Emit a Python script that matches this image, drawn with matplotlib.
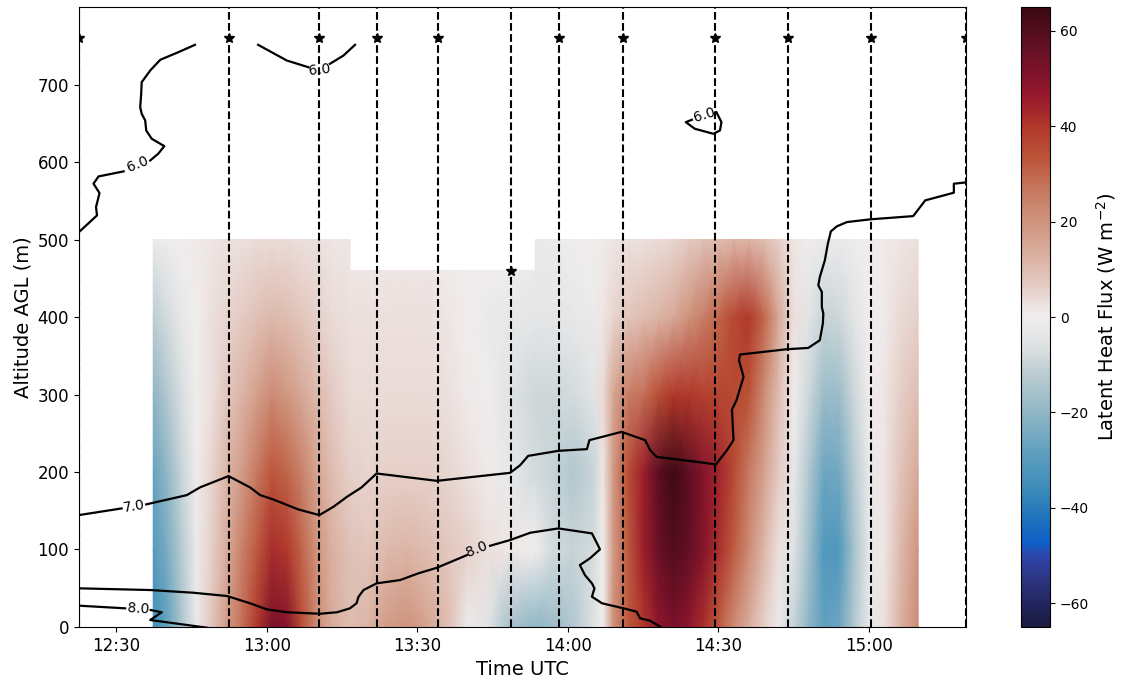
import numpy as np
import pandas as pd
import matplotlib
matplotlib.use('Agg')
import matplotlib.pyplot as plt
import matplotlib.dates as mdates
from matplotlib.colors import LinearSegmentedColormap

# Tiempos en minutos despues de las 12:00 UTC
base = pd.Timestamp('2020-01-01 12:00')


def to_num(minutes):
    return mdates.date2num(base) + np.asarray(minutes, dtype=float) / 1440.0


# Perfiles del avion (lineas verticales) y altura maxima de cada perfil
profile_t = [22.6, 52.4, 70.5, 81.9, 94.1, 108.6, 118.3, 130.9, 149.3, 163.8, 180.4, 199.3]
profile_top = [760, 760, 760, 760, 760, 460, 760, 760, 760, 760, 760, 760]

# Flujo de calor latente (W m-2) por nivel de altura
flux_alt = [0, 100, 200, 300, 400, 500]
flux_t = [37.4, 40, 43, 46, 49, 52, 55, 58, 61, 64, 67, 70, 73, 76.6, 80, 84,
          88, 92, 96, 100, 104, 108, 113.5, 117, 121, 125, 127, 129, 132, 135,
          138, 141, 144, 147, 150, 153, 156, 159, 162, 165, 168, 171, 174, 177,
          180, 183, 186, 189.8]
flux_0m = [-35, -28, -15, -2, 8, 18, 28, 40, 52, 50, 35, 22, 14, 10, 12, 18,
           20, 16, 10, -2, -5, -15, -20, -18, -14, -6, 0, 20, 32, 40,
           48, 52, 48, 42, 32, 22, 14, 6, -2, -10, -20, -28, -26, -14,
           -3, 3, 12, 22]
flux_100m = [-30, -24, -13, -2, 6, 14, 24, 32, 42, 40, 30, 20, 13, 9, 8, 11,
             12, 10, 8, 6, 3, 2, 0, -8, -10, -8, 0, 18, 32, 45,
             55, 60, 57, 50, 42, 32, 22, 12, 3, -6, -17, -31, -31, -16,
             -3, 2, 10, 20]
flux_200m = [-27, -20, -10, -1, 5, 12, 18, 26, 33, 30, 24, 16, 10, 6, 5, 6,
             6, 6, 5, 3, 1, -3, -8, -10, -14, -10, 2, 18, 35, 45,
             58, 64, 58, 50, 44, 36, 26, 17, 7, -3, -14, -26, -25, -13,
             -2, 2, 8, 15]
flux_300m = [-20, -14, -7, 0, 3, 8, 12, 17, 22, 19, 15, 11, 7, 4, 4, 4,
             4, 4, 3, 1, -1, -5, -9, -9, -8, -5, 4, 15, 25, 28,
             35, 40, 40, 38, 37, 36, 34, 22, 10, 0, -9, -18, -18, -9,
             -1, 2, 6, 10]
flux_400m = [-12, -8, -3, 0, 3, 5, 7, 9, 11, 10, 8, 6, 4, 3, 3, 3,
             3, 3, 2, 0, -2, -3, -4, -4, -3, -2, 2, 5, 8, 10,
             12, 15, 20, 25, 30, 36, 40, 30, 15, 3, -5, -10, -9, -5,
             0, 1, 4, 6]
flux_500m = [-2, -1, 0, 1, 2, 3, 3, 4, 4, 4, 3, 3, 2, 2, 2, 2,
             2, 2, 1, 0, -1, -1, -2, -2, -1, 0, 1, 2, 3, 3,
             4, 5, 7, 9, 10, 12, 12, 10, 6, 2, -1, -2, -2, -1,
             0, 1, 2, 3]
# Tramo con techo mas bajo (perfil de 13:48)
notch_start, notch_end, notch_top = 76.6, 113.5, 460

# Isolineas (razon de mezcla, g/kg) como segmentos entre etiquetas
c6_segments = [
    ([22.6, 26.2, 26.0, 26.7, 25.5, 26.5, 31.5],
     [509.6, 531.1, 541.8, 559.9, 572.0, 581.4, 587.9]),
    ([36.8, 38.4, 39.6, 37.1, 36.0, 35.8, 35.1, 34.8, 35.0, 35.1, 36.8, 38.8, 42.4, 45.7],
     [602.0, 610.7, 620.5, 630.0, 640.7, 653.6, 662.3, 670.8, 688.0, 703.0, 718.1, 731.9, 741.7, 751.2]),
    ([58.3, 64.0, 68.3], [751.2, 731.0, 722.3]),
    ([72.6, 75.3, 77.6], [726.7, 737.4, 751.2]),
    ([149.6, 150.6, 150.3, 149.0, 145.3, 143.5, 144.7],
     [664.3, 651.4, 640.7, 636.4, 642.9, 651.4, 654.5]),
]
c7_segments = [
    ([22.6, 31.1], [144.4, 153.0]),
    ([36.0, 44.1, 46.7, 52.4, 56.7, 58.7, 61.3, 66.3, 70.5, 73.3, 76.0, 78.9, 81.9,
      93.9, 108.5, 110.5, 112.1, 118.1, 123.8, 124.3, 130.7, 135.4, 136.4, 137.7,
      145.7, 149.5, 151.7, 153.0, 152.7, 153.6, 155.0, 154.1, 154.3, 163.6, 167.9,
      170.2, 170.8, 170.9, 170.6, 170.6, 169.9, 170.2, 171.2, 171.8, 172.4, 173.6,
      175.6, 180.2, 188.8, 191.2, 196.9, 196.9, 198.8, 199.3],
     [158.2, 170.2, 180.1, 194.7, 180.1, 170.2, 164.6, 151.7, 144.4, 155.1, 168.0,
      180.1, 198.1, 188.6, 198.9, 208.8, 220.8, 227.3, 229.5, 241.1, 251.8, 241.1,
      228.2, 219.5, 213.1, 209.7, 228.2, 241.1, 280.7, 292.6, 322.7, 344.2, 351.6,
      358.4, 360.1, 370.0, 391.5, 404.4, 412.9, 432.3, 440.9, 451.6, 473.1, 494.6,
      510.5, 517.0, 522.5, 526.0, 530.2, 550.5, 560.4, 572.0, 573.3, 573.7]),
]
c8_segments = [
    ([22.6, 36.8, 45.4, 52.1, 56.7, 60.0, 64.0, 70.6, 74.0, 76.6, 77.9, 78.3, 79.3,
      81.9, 86.6, 90.2, 93.9, 99.9],
     [49.9, 47.7, 44.2, 40.0, 30.6, 22.8, 19.0, 17.1, 19.0, 24.1, 30.6, 39.1, 47.7,
      56.3, 60.6, 69.2, 76.4, 92.8]),
    ([104.5, 108.5, 112.5, 118.1, 124.8, 126.4, 124.4, 122.4, 123.4, 124.8, 125.3,
      124.8, 126.8, 131.1, 133.7, 134.4, 136.4, 138.4],
     [104.8, 112.2, 121.6, 127.2, 120.8, 100.2, 88.6, 79.9, 67.0, 56.3, 49.9, 39.1,
      30.6, 24.1, 19.7, 11.2, 8.1, 0.4]),
    ([22.6, 31.8], [27.5, 24.1]),
    ([36.9, 39.1, 36.8, 48.1], [21.9, 19.0, 9.0, -0.9]),
]
# Etiquetas de isolineas: texto, tiempo, altura, rotacion
clabels = [('6.0', 34.4, 597, 22), ('6.0', 70.5, 719, 6), ('6.0', 147.1, 661, 17),
           ('7.0', 33.6, 156, 9), ('8.0', 101.9, 100.6, 22), ('8.0', 34.4, 24.1, -4)]

# Paleta tipo "balance"
cmap_vals = [-65, -62.4, -55.4, -50.2, -47.6, -42.3, -36.2, -29.3, -20.6, -11.9, -5.8, 0,
             2.1, 7.3, 14.3, 21.3, 28.2, 33.5, 40.4, 46.5, 52.6, 58.7, 65]
cmap_cols = ['#191b40', '#1e2050', '#2c3480', '#2e46aa', '#0e5fc6', '#1f72bb', '#3d8dbb',
             '#5a9dbe', '#8db5c4', '#bccdd2', '#dfe2e3', '#f1eeee', '#ede4e2', '#e3c8c0',
             '#d8ab99', '#cd8f78', '#c47158', '#bb5438', '#b0362a', '#96182d', '#78122a',
             '#5a0e22', '#3c0914']
cmap = LinearSegmentedColormap.from_list(
    'balance', list(zip([(v + 65) / 130 for v in cmap_vals], cmap_cols)))

fig = plt.figure(figsize=(11.23, 6.81), dpi=100)
ax = fig.add_axes([0.0703, 0.0793, 0.7898, 0.9104])
cax = fig.add_axes([0.9092, 0.0793, 0.0258, 0.9104])

flux = np.array([flux_0m, flux_100m, flux_200m, flux_300m, flux_400m, flux_500m])
tt = np.array(flux_t)
i0 = int(np.argmin(abs(tt - notch_start)))
i1 = int(np.argmin(abs(tt - notch_end)))
for lo, hi, top in [(0, i0, flux_alt[-1]), (i0, i1, notch_top), (i1, len(tt) - 1, flux_alt[-1])]:
    alts = np.array(flux_alt, dtype=float)
    alts[-1] = top
    X, Y = np.meshgrid(to_num(tt[lo:hi + 1]), alts)
    mesh = ax.pcolormesh(X, Y, flux[:, lo:hi + 1], cmap=cmap, vmin=-65, vmax=65,
                         shading='gouraud')

for t, top in zip(profile_t, profile_top):
    ax.axvline(to_num(t), color='k', linestyle='--', linewidth=1.5)
    ax.plot(to_num(t), top, marker='*', color='k', markersize=7)

for seg_t, seg_z in c6_segments + c7_segments + c8_segments:
    ax.plot(to_num(seg_t), seg_z, color='k', linewidth=1.6)
for txt, t, z, rot in clabels:
    ax.text(to_num(t), z, txt, fontsize=10, rotation=rot, ha='center', va='center')

ax.set_xlim(to_num(profile_t[0]), to_num(profile_t[-1]))
ax.set_ylim(0, 800)
ax.set_yticks(range(0, 800, 100))
ax.xaxis.set_major_locator(mdates.MinuteLocator(byminute=[0, 30]))
ax.xaxis.set_major_formatter(mdates.DateFormatter('%H:%M'))
ax.tick_params(labelsize=12)
ax.set_xlabel('Time UTC', fontsize=14)
ax.set_ylabel('Altitude AGL (m)', fontsize=14)

cbar = fig.colorbar(mesh, cax=cax, ticks=range(-60, 61, 20))
cbar.ax.tick_params(labelsize=10)
cbar.set_label('Latent Heat Flux (W m$^{-2}$)', fontsize=14)

fig.savefig('out.png', dpi=100)
